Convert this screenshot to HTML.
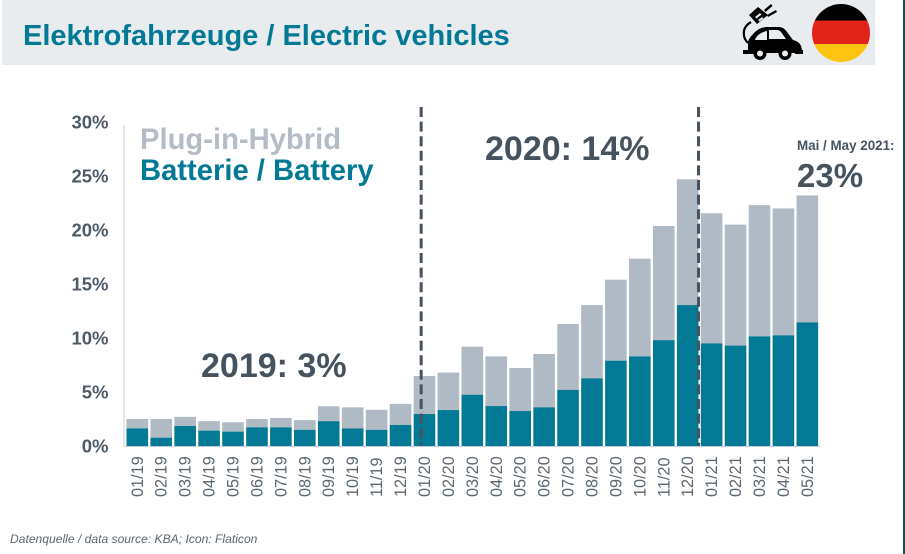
<!DOCTYPE html>
<html lang="en">
<head>
<meta charset="utf-8">
<title>Elektrofahrzeuge / Electric vehicles</title>
<style>
html,body{margin:0;padding:0;background:#fff;}
#stage{display:block;width:905px;height:554px;}
text{font-family:"Liberation Sans",sans-serif;}
</style>
</head>
<body>
<svg id="stage" width="905" height="554" viewBox="0 0 905 554" xmlns="http://www.w3.org/2000/svg">
  <rect x="0" y="0" width="905" height="554" fill="#ffffff"/>
  <rect x="903" y="0" width="2" height="554" fill="#1f4a57"/>
  <rect x="2" y="0" width="873" height="65" fill="#e9ecef"/>
  <text x="23" y="45" font-size="29" font-weight="700" fill="#037a95">Elektrofahrzeuge / Electric vehicles</text>

  <g fill="#000" stroke="none">
    <path d="M743 50h5v-7c0-3 2-6 6-10c4-4 8-6 14-6h10c4 0 6 1 9 5l6 8c4 1 7 3 8 6l1 4h1v4h-8v-1h-40v1h-12z"/>
    <path d="M755 40c1-4 6-8 12-9v9zM769 30h8c2 0 3 1 4 2l5 7h-17z" fill="#e9ecef"/>
    <circle cx="760" cy="53.500" r="6.500"/><circle cx="760" cy="53.500" r="3" fill="#e9ecef"/>
    <circle cx="785" cy="53.500" r="6.500"/><circle cx="785" cy="53.500" r="3" fill="#e9ecef"/>
    <path d="M749 15l9-8 10 8-11 9z"/>
    <path d="M755 17l5-4 1.500 1.500-5 4zM758 20l4-3 1.500 1.500-4 3z" fill="#e9ecef"/>
    <path d="M764 10l7-6 1.500 2-7 6zM767 15l9-5 1 2-9 5z"/>
    <path d="M751 22c-5 3-8 7-7 13c0 3 2 6 4 8" fill="none" stroke="#000" stroke-width="2.200"/>
  </g>

  <g>
    <clipPath id="flagClip"><circle cx="841" cy="33" r="29"/></clipPath>
    <g clip-path="url(#flagClip)">
      <rect x="812" y="4" width="58" height="16.500" fill="#000000"/>
      <rect x="812" y="20.500" width="58" height="23.500" fill="#e2231a"/>
      <rect x="812" y="44" width="58" height="18" fill="#fdc30f"/>
    </g>
  </g>

  <g id="chart"></g>

  <text x="140" y="149" font-size="29.200" font-weight="700" fill="#b4bcc6">Plug-in-Hybrid</text>
  <text x="140" y="180" font-size="29.200" font-weight="700" fill="#037a95">Batterie / Battery</text>

  <text x="201" y="377" font-size="34" font-weight="700" fill="#46535e">2019: 3%</text>
  <text x="485" y="160" font-size="34" font-weight="700" fill="#46535e">2020: 14%</text>
  <text x="797" y="150" font-size="13.400" font-weight="700" fill="#46535e">Mai / May 2021:</text>
  <text x="797" y="187" font-size="33" font-weight="700" fill="#46535e">23%</text>

  <text x="10" y="543" font-size="12.100" font-style="italic" fill="#5a6670">Datenquelle / data source: KBA; Icon: Flaticon</text>
</svg>
<script>
const categories = ["01/19","02/19","03/19","04/19","05/19","06/19","07/19","08/19","09/19","10/19","11/19","12/19","01/20","02/20","03/20","04/20","05/20","06/20","07/20","08/20","09/20","10/20","11/20","12/20","01/21","02/21","03/21","04/21","05/21"];
const batteryShare = [1.63,0.77,1.85,1.42,1.33,1.73,1.73,1.5,2.3,1.63,1.5,1.95,2.96,3.33,4.75,3.7,3.24,3.58,5.2,6.27,7.9,8.3,9.8,13.05,9.5,9.3,10.15,10.25,11.45];
const totalShare = [2.5,2.5,2.7,2.3,2.2,2.5,2.6,2.4,3.68,3.58,3.35,3.9,6.48,6.8,9.2,8.3,7.22,8.52,11.3,13.05,15.4,17.35,20.37,24.7,21.55,20.5,22.3,22,23.2];
const yTicks = [0,5,10,15,20,25,30];
const dividerCategories = ["01/20","01/21"];

const NS = "http://www.w3.org/2000/svg";
const chart = document.getElementById("chart");
const y0 = 446, pxPerPct = 10.8, x0 = 126.5, pitch = 23.93, barW = 21.6;
function yScale(v){ return y0 - v * pxPerPct; }
function xLeft(i){ return x0 + i * pitch; }
function mk(tag, attrs, parent){
  const el = document.createElementNS(NS, tag);
  for (const k in attrs) el.setAttribute(k, attrs[k]);
  (parent || chart).appendChild(el);
  return el;
}

const yAxis = mk("line", {x1:124, x2:124, y1:125, y2:y0, stroke:"#c9ced3", "stroke-width":1});



yTicks.forEach(function(t){
  const lab = mk("text", {x:108.5, y:yScale(t)+6.5, "text-anchor":"end", "font-size":18.5, "font-weight":700, fill:"#4e5a65"});
  lab.textContent = t + "%";
  
  
});

categories.forEach(function(c, i){
  const x = xLeft(i);
  const hybrid = mk("rect", {x:x, y:yScale(totalShare[i]), width:barW, height:(totalShare[i]-batteryShare[i])*pxPerPct, fill:"#b0bac4"});
  
  
  const battery = mk("rect", {x:x, y:yScale(batteryShare[i]), width:barW, height:batteryShare[i]*pxPerPct, fill:"#037a95"});
  
  
  const cx = x + barW/2 + 5.5;
  const lab = mk("text", {transform:"translate("+cx+",497) rotate(-90)", "font-size":16.3, fill:"#5a6670"});
  lab.textContent = c;
  
  
});

const xAxis = mk("line", {x1:124, x2:xLeft(categories.length), y1:y0+0.5, y2:y0+0.5, stroke:"#c9ced3", "stroke-width":1});



dividerCategories.forEach(function(c){
  const i = categories.indexOf(c);
  const x = xLeft(i) + (c === "01/20" ? 7.5 : -2.3);
  const line = mk("line", {x1:x, x2:x, y1:107, y2:y0, stroke:"#46535e", "stroke-width":3, "stroke-dasharray":"10 4.6"});
  
  
});
</script>
</body>
</html>
